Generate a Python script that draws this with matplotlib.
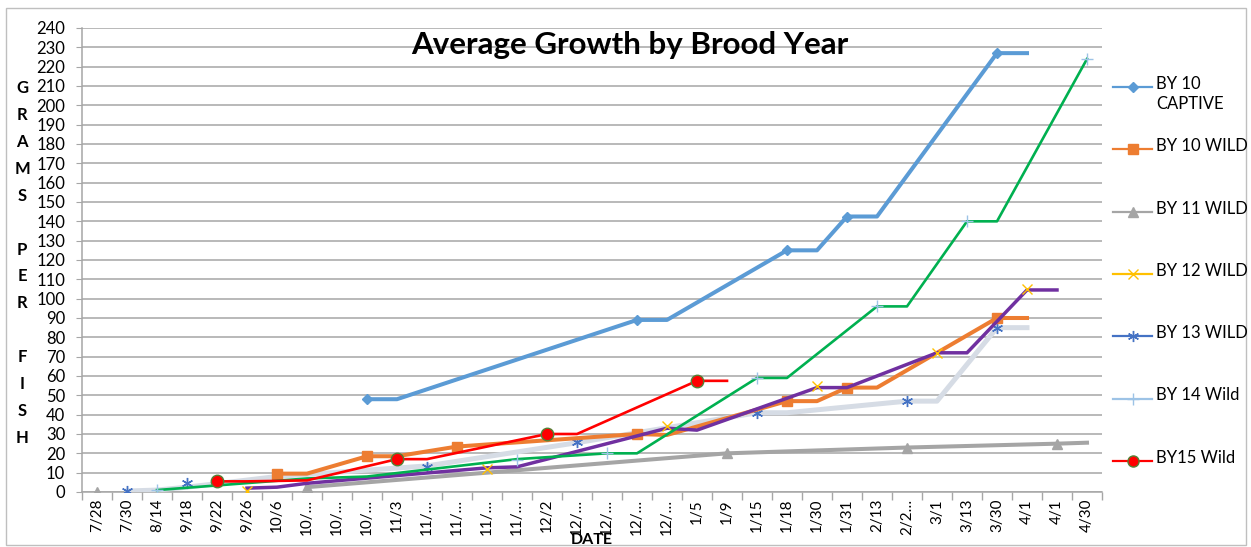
import matplotlib.pyplot as plt
import numpy as np
from matplotlib.lines import Line2D
from matplotlib.patches import Rectangle

plt.rcParams['font.family'] = ['Lato', 'DejaVu Sans']

N = None

# Fechas (categorias del eje x)
dates = ['7/28', '7/30', '8/14', '9/18', '9/22', '9/26', '10/6', '10/…', '10/…', '10/…',
         '11/3', '11/…', '11/…', '11/…', '11/…', '12/2', '12/…', '12/…', '12/…', '12/…',
         '1/5', '1/9', '1/15', '1/18', '1/30', '1/31', '2/13', '2/2…', '3/1', '3/13',
         '3/30', '4/1', '4/1', '4/30']

# Lineas (valores en gramos, None = sin dato)
captive_line = [N, N, N, N, N, N, N, N, N, 48, 48, N, N, N, N, N, N, N, 89, 89,
                N, N, N, 125, 125, 142.5, 142.5, N, N, N, 227, 227, N, N]
wild10_line = [N, N, N, N, N, N, 9.5, 9.5, N, 18.5, 18.5, N, 23.5, N, N, N, N, N, 30, 29.5,
               N, N, N, 47, 47, 54, 54, N, N, N, 90, 90, N, N]
wild11_line = [N, N, N, N, N, N, N, 2.5, N, N, N, N, N, N, N, N, N, N, N, N,
               N, 20, N, N, N, N, N, 23, N, N, N, N, 25, 25.5]
wild12_line = [N, N, N, N, N, 2, 2.5, 4.5, N, N, N, N, N, 12.5, 13, N, N, N, N, 33,
               32, N, N, N, 54, 54, N, N, 72, 72, N, 104.5, 104.5, N]
wild13_line = [N, 0.5, 1, 2.5, N, N, 8, N, N, N, N, 13.5, N, N, N, N, 25.5, N, N, N,
               N, N, 41, 41, N, N, N, 47, 47, N, 85, 85, N, N]
wild14_line = [N, N, 1, N, N, N, N, 7, N, 8, N, N, N, N, 17, N, N, 20, 20, N,
               N, N, 59, 59, N, N, 96, 96, N, 140, 140, N, N, 224]
wild15_line = [N, N, N, N, 5.5, 5.5, N, 6, N, N, 17, 17, N, N, N, 30, 30, N, N, N,
               57.5, 57.5, N, N, N, N, N, N, N, N, N, N, N, N]

# Puntos con marcador
captive_pts = [N, N, N, N, N, N, N, N, N, 48, N, N, N, N, N, N, N, N, 89, N,
               N, N, N, 125, N, 142.5, N, N, N, N, 227, N, N, N]
wild10_pts = [N, N, N, N, N, N, 9.5, N, N, 18.5, N, N, 23.5, N, N, N, N, N, 30, N,
              N, N, N, 47, N, 54, N, N, N, N, 90, N, N, N]
wild11_pts = [0, N, N, N, N, N, N, 2.5, N, N, N, N, N, N, N, N, N, N, N, N,
              N, 20, N, N, N, N, N, 23, N, N, N, N, 25, N]
wild12_pts = [N, N, N, N, N, 0.5, N, N, N, N, N, N, N, 12, N, N, N, N, N, 34,
              N, N, N, N, 55, N, N, N, 72, N, N, 105, N, N]
wild13_pts = [N, 0.5, N, 4.5, N, N, N, N, N, N, N, 13, N, N, N, N, 26, N, N, N,
              N, N, 41, N, N, N, N, 47, N, N, 85, N, N, N]
wild14_pts = [N, N, 1, N, N, N, N, N, N, N, N, N, N, N, 16.5, N, N, 20, N, N,
              N, N, 59, N, N, N, 96, N, N, 140, N, N, N, 224]
wild15_pts = [N, N, N, N, 5.5, N, N, N, N, N, 17, N, N, N, N, 30, N, N, N, N,
              57.5, N, N, N, N, N, N, N, N, N, N, N, N, N]

names = ['BY 10\nCAPTIVE', 'BY 10 WILD', 'BY 11 WILD', 'BY 12 WILD', 'BY 13 WILD', 'BY 14 Wild', 'BY15 Wild']


def arr(v):
    assert len(v) == len(dates)
    return np.array([np.nan if a is None else a for a in v], dtype=float)


W, H = 1251, 547
fig = plt.figure(figsize=(W / 100, H / 100), dpi=100)
ax = fig.add_axes([82 / W, 55 / H, 1020 / W, 464 / H])
x = np.arange(len(dates))

# (linea, puntos, color linea, grosor, marcador, color marcador, borde marcador, tam)
series = [
    (wild11_line, wild11_pts, '#A5A5A5', 2.9, '^', '#A5A5A5', '#A5A5A5', 7),
    (wild13_line, wild13_pts, '#D6DCE5', 3.6, (6, 2, 0), '#4472C4', '#4472C4', 8),
    (wild10_line, wild10_pts, '#ED7D31', 2.9, 's', '#ED7D31', '#ED7D31', 7),
    (wild12_line, wild12_pts, '#7030A0', 2.5, 'x', '#FFC000', '#FFC000', 7),
    (wild14_line, wild14_pts, '#00B050', 1.9, '+', '#9DC3E6', '#9DC3E6', 8),
    (captive_line, captive_pts, '#5B9BD5', 2.9, 'D', '#5B9BD5', '#5B9BD5', 5.5),
    (wild15_line, wild15_pts, '#FF0000', 1.9, 'o', '#FF0000', '#548235', 9),
]
for k, (ln, pts, c, lw, mk, mc, me, ms) in enumerate(series):
    y = arr(ln)
    m = ~np.isnan(y)
    ax.plot(x[m], y[m], color=c, lw=lw, solid_joinstyle='round', zorder=3 + k)
    ax.plot(x, arr(pts), linestyle='none', marker=mk, ms=ms, mfc=mc, mec=me,
            mew=1.0, zorder=3 + k)

ax.set_xlim(-0.5, len(dates) - 0.5)
ax.set_ylim(0, 240)
ax.set_yticks(np.arange(0, 241, 10))
ax.set_xticks(x)
ax.set_xticklabels(dates, rotation=90, fontsize=11)
ax.set_xticks(np.arange(-0.5, len(dates), 1), minor=True)
ax.tick_params(axis='x', which='major', length=0, pad=5)
ax.tick_params(axis='x', which='minor', length=6, color='#A6A6A6', width=1)
ax.tick_params(axis='y', length=4, color='#A6A6A6', pad=8, labelsize=12)
ax.yaxis.grid(True, color='#A6A6A6', lw=1.1)
ax.set_axisbelow(True)
for s in ['top', 'right']:
    ax.spines[s].set_visible(False)
for s in ['left', 'bottom']:
    ax.spines[s].set_color('#A6A6A6')
    ax.spines[s].set_linewidth(1.1)

fig.text(630 / W, 1 - 45 / H, 'Average Growth by Brood Year', fontsize=22.5,
         fontweight='bold', ha='center', va='center')
fig.text(592 / W, 1 - 540 / H, 'DATE', fontsize=11.5, fontweight='bold',
         ha='center', va='center')
fig.text(22 / W, 1 - 263 / H, 'G\nR\nA\nM\nS\n\nP\nE\nR\n\nF\nI\nS\nH', fontsize=12,
         fontweight='bold', ha='center', va='center', linespacing=1.84)

# Leyenda
leg_style = [('#5B9BD5', 'D', '#5B9BD5', '#5B9BD5', 5),
             ('#ED7D31', 's', '#ED7D31', '#ED7D31', 7),
             ('#A5A5A5', '^', '#A5A5A5', '#A5A5A5', 7),
             ('#FFC000', 'x', '#FFC000', '#FFC000', 7),
             ('#4472C4', (6, 2, 0), '#4472C4', '#4472C4', 8),
             ('#9DC3E6', '+', '#9DC3E6', '#9DC3E6', 8),
             ('#FF0000', 'o', '#FF0000', '#548235', 8)]
for i, (name, (c, mk, mc, me, ms)) in enumerate(zip(names, leg_style)):
    yy = 1 - (87 + 62.3 * i) / H
    fig.add_artist(Line2D([1113 / W, 1152 / W], [yy, yy], color=c, lw=1.6,
                          transform=fig.transFigure))
    fig.add_artist(Line2D([1132.5 / W], [yy], marker=mk, ms=ms, mfc=mc, mec=me,
                          mew=1.0, transform=fig.transFigure))
    fig.text(1156 / W, yy + 11 / H, name, fontsize=12, ha='left', va='top',
             linespacing=1.3)

fig.add_artist(Rectangle((6 / W, 2 / H), 1240 / W, 537 / H, fill=False,
                         edgecolor='#BFBFBF', lw=1, transform=fig.transFigure))

fig.savefig('out.png', dpi=100)
